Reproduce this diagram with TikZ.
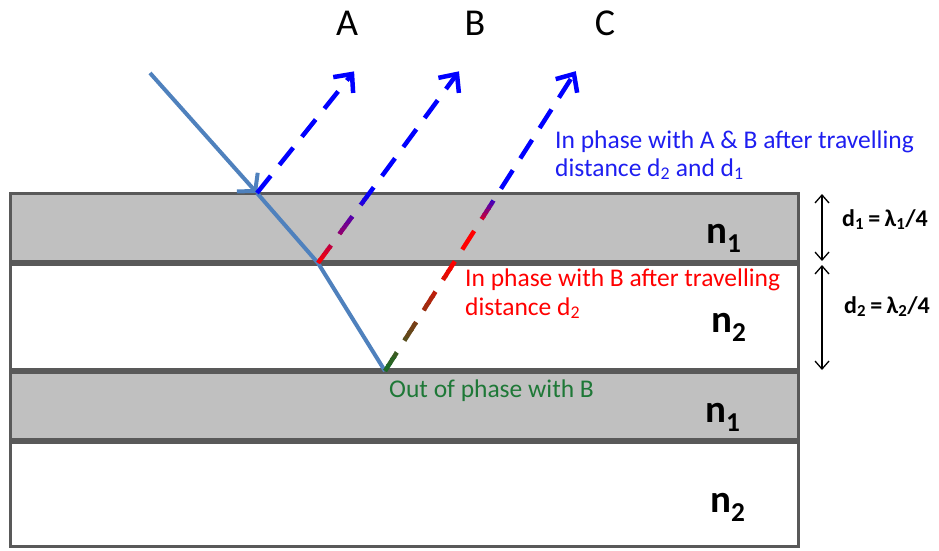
\documentclass[tikz,border=0pt]{standalone}
\usepackage{fontspec}
\setmainfont{Carlito}
\usetikzlibrary{arrows.meta,calc}
\definecolor{layergray}{RGB}{192,192,192}
\definecolor{edgegray}{RGB}{89,89,89}
\definecolor{raysteel}{RGB}{79,129,189}
\definecolor{rayblue}{RGB}{0,0,255}
\definecolor{rayred}{RGB}{255,0,0}
\definecolor{raygreen}{RGB}{20,110,40}
\definecolor{txtblue}{RGB}{30,30,240}
\definecolor{txtred}{RGB}{255,0,0}
\definecolor{txtgreen}{RGB}{30,120,55}
\newcommand\rayband[5]{%
  \begin{scope}
    \clip (0,#3) rectangle (939,#4);
    \draw[dray,#5] (#1) -- (#2);
  \end{scope}}
\newcommand\raytip[2]{% #1 tip, #2 start of ray
  \draw[tipline] ($(#1)!19pt!42:(#2)$) -- (#1) -- ($(#1)!19pt!-42:(#2)$);}
\begin{document}
\begin{tikzpicture}[x=1pt,y=-1pt,
  layer/.style={draw=edgegray,line width=3pt},
  inray/.style={raysteel,line width=4pt,line join=round},
  dray/.style={line width=4.5pt,dash pattern=on 22pt off 14pt,shorten >=2pt},
  tipline/.style={rayblue,line width=4.5pt,line join=miter,solid},
  dimarrow/.style={black,line width=1.3pt,{Straight Barb[length=8pt,width=14pt]}-{Straight Barb[length=8pt,width=14pt]}},
  lbl/.style={inner sep=0pt,anchor=base},
  note/.style={inner sep=0pt,anchor=base west,font=\fontsize{25.5}{30}\selectfont},
  nlbl/.style={inner sep=0pt,anchor=base west,font=\fontsize{39}{42}\selectfont\bfseries},
  dlbl/.style={inner sep=0pt,anchor=base west,font=\fontsize{24}{28}\selectfont\bfseries}]
\useasboundingbox (0,0) rectangle (939,550);
% layers
\draw[layer,fill=layergray] (10.5,193.5) rectangle (798.5,261.5);
\draw[layer,fill=white] (10.5,264.5) rectangle (798.5,369);
\draw[layer,fill=layergray] (10.5,372) rectangle (798.5,439.5);
\draw[layer,fill=white] (10.5,442.5) rectangle (798.5,546.5);
% ray points
\coordinate (P0) at (150,73);
\coordinate (P1) at (257,193);
\coordinate (P2) at (318,263);
\coordinate (P3) at (385,371);
\coordinate (TA) at (352,74);
\coordinate (TB) at (457,74);
\coordinate (TC) at (574,74);
% incident and refracted ray
\draw[inray,-{Straight Barb[length=12pt,width=28pt]}] (P0) -- (P1);
\draw[inray] (P1) -- (P2) -- (P3);
% reflected ray A
\draw[dray,rayblue] (P1) -- (TA);
\raytip{TA}{P1}
% reflected ray B
\rayband{P2}{TB}{0}{193.5}{rayblue}
\foreach \i in {0,...,13}{
  \pgfmathsetmacro\ya{193+\i*70/14}
  \pgfmathsetmacro\yb{193+(\i+1)*70/14+0.6}
  \pgfmathtruncatemacro\t{100*(\i+0.5)/14}
  \rayband{P2}{TB}{\ya}{\yb}{rayred!\t!rayblue}
}
\raytip{TB}{P2}
% reflected ray C
\rayband{P3}{TC}{0}{193.5}{rayblue}
\foreach \i in {0,...,7}{
  \pgfmathsetmacro\ya{193+\i*32/8}
  \pgfmathsetmacro\yb{193+(\i+1)*32/8+0.6}
  \pgfmathtruncatemacro\t{100*(\i+0.5)/8}
  \rayband{P3}{TC}{\ya}{\yb}{rayred!\t!rayblue}
}
\rayband{P3}{TC}{225}{264}{rayred}
\foreach \i in {0,...,15}{
  \pgfmathsetmacro\ya{263+\i*108/16}
  \pgfmathsetmacro\yb{263+(\i+1)*108/16+0.6}
  \pgfmathtruncatemacro\t{100*(\i+0.5)/16}
  \rayband{P3}{TC}{\ya}{\yb}{raygreen!\t!rayred}
}
\raytip{TC}{P3}
% thickness arrows
\coordinate (D0) at (822,194);
\coordinate (D1) at (822,261);
\coordinate (D2) at (822,265);
\coordinate (D3) at (822,370);
\draw[dimarrow] (D0) -- (D1);
\draw[dimarrow] (D2) -- (D3);
% labels
\node[lbl,font=\fontsize{38}{40}\selectfont] (lA) at (347,35) {A};
\node[lbl,font=\fontsize{38}{40}\selectfont] (lB) at (475,35) {B};
\node[lbl,font=\fontsize{38}{40}\selectfont] (lC) at (605,35) {C};
\node[note,txtblue] (b1) at (555,148) {In phase with A \& B after travelling};
\node[note,txtblue] (b2) at (555,176) {distance d\textsubscript{2} and d\textsubscript{1}};
\node[note,txtred] (r1) at (465,286) {In phase with B after travelling};
\node[note,txtred] (r2) at (465,315) {distance d\textsubscript{2}};
\node[note,txtgreen] (g1) at (389,397) {Out of phase with B};
\node[nlbl] (n1) at (706,243) {n\textsubscript{1}};
\node[nlbl] (n2) at (711,332) {n\textsubscript{2}};
\node[nlbl] (n3) at (705,422) {n\textsubscript{1}};
\node[nlbl] (n4) at (710,512) {n\textsubscript{2}};
\node[dlbl] (dl1) at (842,226) {d\textsubscript{1}\hspace{0.18em}=\hspace{0.18em}λ\textsubscript{1}/4};
\node[dlbl] (dl2) at (844,313) {d\textsubscript{2}\hspace{0.18em}=\hspace{0.18em}λ\textsubscript{2}/4};
\end{tikzpicture}
\end{document}
